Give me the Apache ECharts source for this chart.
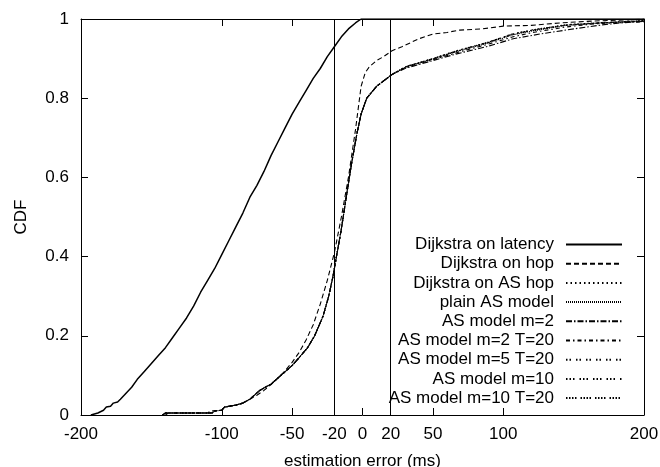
<!DOCTYPE html>
<html>
<head>
<meta charset="utf-8">
<script src="https://cdn.jsdelivr.net/npm/echarts@6/dist/echarts.min.js"></script>
<style>html,body{margin:0;padding:0;background:#fff}#c{width:660px;height:467px}</style>
</head>
<body>
<div id="c"></div>
<script>
// ---- data ----
const xTicks = [-200, -100, -50, -20, 0, 20, 50, 100, 200];
const yTicks = [0, 0.2, 0.4, 0.6, 0.8, 1];
const refLines = [-20, 20];
const seriesNames = [
  'Dijkstra on latency', 'Dijkstra on hop', 'Dijkstra on AS hop', 'plain AS model',
  'AS model m=2', 'AS model m=2 T=20', 'AS model m=5 T=20', 'AS model m=10', 'AS model m=10 T=20'
];

const latency = [[-193,0],[-192,0.005],[-188,0.005],[-187,0.01],[-184,0.012],[-182,0.02],[-179,0.022],[-177,0.03],
  [-174,0.033],[-172,0.04],[-168,0.055],[-164,0.07],[-160,0.09],[-155,0.11],[-150,0.13],[-145,0.15],[-140,0.17],
  [-135,0.195],[-130,0.22],[-125,0.245],[-120,0.275],[-115,0.31],[-110,0.34],[-105,0.37],[-100,0.405],[-95,0.44],
  [-90,0.475],[-85,0.51],[-80,0.55],[-75,0.58],[-70,0.615],[-65,0.655],[-60,0.69],[-55,0.725],[-50,0.76],[-45,0.79],
  [-40,0.82],[-35,0.85],[-30,0.875],[-25,0.905],[-20,0.93],[-15,0.955],[-10,0.975],[-5,0.99],[-1,1],[200,1]];

const hop = [[-140,0],[-138,0.005],[-110,0.005],[-108,0.01],[-100,0.012],[-98,0.02],[-90,0.025],[-85,0.03],[-80,0.04],
  [-75,0.05],[-70,0.062],[-65,0.077],[-60,0.093],[-55,0.112],[-50,0.133],[-45,0.158],[-40,0.19],[-35,0.228],[-30,0.28],
  [-25,0.34],[-20,0.41],[-15,0.5],[-10,0.6],[-5,0.72],[-1,0.83],[2,0.865],[5,0.88],[10,0.895],[15,0.905],[21,0.92],
  [28,0.93],[34,0.94],[40,0.95],[50,0.962],[60,0.966],[69,0.972],[85,0.975],[100,0.982],[120,0.984],[140,0.99],
  [164,0.995],[190,0.998],[200,1]];

const groupLow = [[-142,0],[-140,0.005],[-107,0.005],[-105,0.01],[-100,0.012],[-98,0.02],[-90,0.025],[-85,0.03],
  [-80,0.04],[-73,0.062],[-65,0.078],[-58,0.1],[-50,0.125],[-45,0.145],[-39,0.17],[-34,0.2],[-28,0.25],[-24,0.3],
  [-21,0.35],[-18,0.41],[-15,0.47],[-12,0.54],[-8,0.63],[-4,0.71],[-1,0.76],[3,0.8],[10,0.83],[21,0.86]];

const tailASHop = [[31,0.88],[50,0.9],[67,0.92],[88,0.94],[107,0.962],[121,0.972],[145,0.985],[169,0.99],[200,0.995]];
const tailPlain = [[31,0.879],[50,0.899],[67,0.918],[88,0.938],[107,0.96],[121,0.97],[145,0.984],[169,0.99],[200,0.995]];
const tailM2 = [[31,0.876],[50,0.895],[67,0.912],[88,0.93],[107,0.95],[126,0.962],[150,0.975],[170,0.985],[183,0.99],[200,0.994]];
const tailM2T20 = [[31,0.878],[50,0.897],[67,0.915],[88,0.935],[107,0.955],[121,0.966],[145,0.98],[165,0.988],[200,0.993]];
const tailM5T20 = [[31,0.88],[50,0.9],[67,0.919],[88,0.939],[107,0.961],[121,0.971],[145,0.984],[169,0.99],[200,0.995]];
const tailM10 = [[31,0.879],[50,0.899],[67,0.918],[88,0.94],[107,0.963],[121,0.972],[145,0.986],[169,0.991],[200,0.996]];
const tailM10T20 = [[31,0.88],[50,0.9],[67,0.92],[88,0.94],[107,0.962],[121,0.973],[145,0.985],[169,0.99],[200,0.996]];

const dashes = [null, [5,3], [1.5,3], [1,1], [6,2,1.5,2], [4,3,1.5,3], [1.5,2,1.5,5], [1.5,2,1.5,2,1.5,5], [1.5,1.5,1.5,1.5,1.5,1.5,1.5,4]];

// ---- chart ----
const seriesData = [latency, hop, groupLow.concat(tailASHop), groupLow.concat(tailPlain), groupLow.concat(tailM2),
  groupLow.concat(tailM2T20), groupLow.concat(tailM5T20), groupLow.concat(tailM10), groupLow.concat(tailM10T20)];

const FONT = '"Liberation Sans", Arial, sans-serif';
const FS = 17;

const chart = echarts.init(document.getElementById('c'), null, {renderer: 'canvas'});

const series = seriesData.map((d, i) => {
  const s = {
    name: seriesNames[i], type: 'line', data: d, symbol: 'none', xAxisIndex: 0, yAxisIndex: 0,
    lineStyle: {color: '#000', width: i === 0 ? 1.5 : 1.1, type: dashes[i] || 'solid'},
    itemStyle: {color: '#000'}, emphasis: {disabled: true}, animation: false
  };
  if (i === 0) {
    s.markLine = {
      silent: true, symbol: 'none', label: {show: false}, animation: false,
      lineStyle: {color: '#000', width: 1, type: 'solid'},
      data: refLines.map(v => ({xAxis: v}))
    };
  }
  return s;
});

const axisCommon = {
  axisLine: {show: true, onZero: false, lineStyle: {color: '#000', width: 1}},
  splitLine: {show: false},
};

chart.setOption({
  animation: false,
  backgroundColor: '#fff',
  textStyle: {fontFamily: FONT, color: '#000'},
  grid: {left: 81, right: 16, top: 19, bottom: 52, containLabel: false, outerBoundsMode: 'none'},
  legend: {
    orient: 'vertical', right: 37, top: 236, padding: 0, align: 'right',
    itemWidth: 56, itemHeight: 14, itemGap: 2.2,
    itemStyle: {opacity: 0},
    textStyle: {fontFamily: FONT, fontSize: FS, color: '#000', padding: [0, 7, 0, 0]},
    selectedMode: false,
    data: seriesNames
  },
  xAxis: [
    Object.assign({}, axisCommon, {
      type: 'value', min: -200, max: 200, position: 'bottom',
      name: 'estimation error (ms)', nameLocation: 'middle', nameGap: 38,
      nameTextStyle: {fontFamily: FONT, fontSize: FS, color: '#000'},
      axisTick: {show: true, inside: true, length: 7, customValues: xTicks, lineStyle: {color: '#000'}},
      axisLabel: {show: true, customValues: xTicks, margin: 11, fontFamily: FONT, fontSize: FS, color: '#000'}
    }),
    Object.assign({}, axisCommon, {
      type: 'value', min: -200, max: 200, position: 'top',
      axisTick: {show: true, inside: true, length: 7, customValues: xTicks, lineStyle: {color: '#000'}},
      axisLabel: {show: false}
    })
  ],
  yAxis: [
    Object.assign({}, axisCommon, {
      type: 'value', min: 0, max: 1, interval: 0.2, position: 'left',
      name: 'CDF', nameLocation: 'middle', nameGap: 51,
      nameTextStyle: {fontFamily: FONT, fontSize: FS, color: '#000'},
      axisTick: {show: true, inside: true, length: 7, lineStyle: {color: '#000'}},
      axisLabel: {show: true, margin: 12, fontFamily: FONT, fontSize: FS, color: '#000',
        formatter: v => (v === 0 || v === 1) ? String(v) : v.toFixed(1)}
    }),
    Object.assign({}, axisCommon, {
      type: 'value', min: 0, max: 1, interval: 0.2, position: 'right',
      axisTick: {show: true, inside: true, length: 7, lineStyle: {color: '#000'}},
      axisLabel: {show: false}
    })
  ],
  series: series
});
</script>
</body>
</html>
